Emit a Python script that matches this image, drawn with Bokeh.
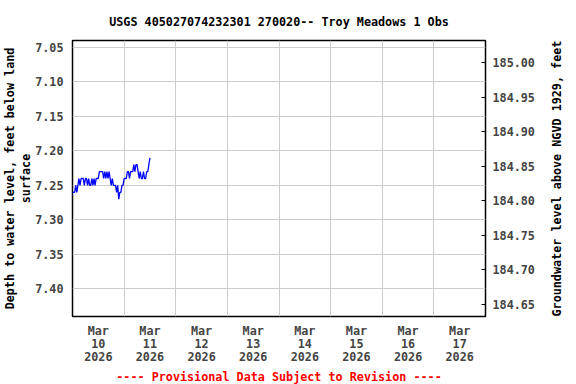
import math
import pandas as pd
from bokeh.plotting import figure
from bokeh.models import Range1d, LinearAxis, FixedTicker, Title
from bokeh.embed import file_html
from bokeh.resources import INLINE

# ---------------- data ----------------
title_text = "USGS 405027074232301 270020-- Troy Meadows 1 Obs"
left_label_1 = "Depth to water level, feet below land"
left_label_2 = "surface"
right_label = "Groundwater level above NGVD 1929, feet"
footer_text = "---- Provisional Data Subject to Revision ----"

start_time = "2026-03-10 00:00"
step_minutes = 30
depth_values = [
    7.26, 7.26, 7.26, 7.25, 7.26, 7.25, 7.24, 7.25, 7.24, 7.24,
    7.24, 7.25, 7.24, 7.24, 7.25, 7.24, 7.25, 7.25, 7.24, 7.25,
    7.24, 7.25, 7.24, 7.24, 7.24, 7.23, 7.23, 7.23, 7.23, 7.24,
    7.23, 7.24, 7.23, 7.24, 7.23, 7.24, 7.25, 7.24, 7.25, 7.25,
    7.25, 7.26, 7.25, 7.27, 7.26, 7.26, 7.25, 7.25, 7.24, 7.24,
    7.24, 7.23, 7.23, 7.24, 7.23, 7.23, 7.23, 7.22, 7.23, 7.22,
    7.22, 7.23, 7.24, 7.23, 7.24, 7.24, 7.23, 7.24, 7.24, 7.23,
    7.23, 7.22, 7.21,
]
datum_elevation = 192.072  # land surface elevation, NGVD 1929

x_start = "2026-03-10"
x_end = "2026-03-18"
day_dates = ["2026-03-10", "2026-03-11", "2026-03-12", "2026-03-13",
             "2026-03-14", "2026-03-15", "2026-03-16", "2026-03-17"]
day_labels = ["Mar\n10\n2026", "Mar\n11\n2026", "Mar\n12\n2026", "Mar\n13\n2026",
              "Mar\n14\n2026", "Mar\n15\n2026", "Mar\n16\n2026", "Mar\n17\n2026"]
depth_ticks = [7.05, 7.10, 7.15, 7.20, 7.25, 7.30, 7.35, 7.40]
elev_ticks = [184.65, 184.70, 184.75, 184.80, 184.85, 184.90, 184.95, 185.00]
depth_top = 7.04
depth_bottom = 7.44

# ---------------- build ----------------
times = pd.date_range(start_time, periods=len(depth_values), freq=f"{step_minutes}min")

FONT = "DejaVu Sans Mono"
FS = "11.75px"

p = figure(width=576, height=384, output_backend="svg", toolbar_location=None,
           x_axis_type="datetime",
           x_range=Range1d(pd.Timestamp(x_start), pd.Timestamp(x_end)),
           y_range=Range1d(depth_bottom, depth_top),
           min_border_left=72, min_border_right=91,
           min_border_top=39, min_border_bottom=68)
p.background_fill_color = "white"
p.border_fill_color = "white"
p.outline_line_color = "black"
p.outline_line_width = 1.5

p.line(times, depth_values, line_color="#0000ff", line_width=1.3)

def ms(d):
    return pd.Timestamp(d).value / 1e6

noon_ticks = [ms(d) + 12 * 3600 * 1000 for d in day_dates]
midnight_ticks = [ms(d) for d in day_dates[1:]]

xa = p.xaxis[0]
xa.ticker = FixedTicker(ticks=noon_ticks)
xa.major_label_overrides = {t: lab for t, lab in zip(noon_ticks, day_labels)}
xa.major_tick_line_color = None
xa.major_tick_out = 0
xa.major_tick_in = 0
xa.minor_tick_line_color = None
xa.axis_line_color = None
xa.major_label_text_font = FONT
xa.major_label_text_font_size = FS
xa.major_label_text_font_style = "bold"
xa.major_label_standoff = 7
xa.major_label_text_line_height = 0.95

p.xgrid[0].ticker = FixedTicker(ticks=midnight_ticks)
p.xgrid[0].grid_line_color = "#cccccc"

ya = p.yaxis[0]
ya.ticker = FixedTicker(ticks=depth_ticks)
ya.major_label_overrides = {t: f"{t:.2f}" for t in depth_ticks}
ya.major_tick_line_color = None
ya.major_tick_out = 0
ya.major_tick_in = 0
ya.minor_tick_line_color = None
ya.axis_line_color = None
ya.major_label_text_font = FONT
ya.major_label_text_font_size = FS
ya.major_label_text_font_style = "bold"
ya.major_label_standoff = 9
p.ygrid[0].ticker = FixedTicker(ticks=depth_ticks)
p.ygrid[0].grid_line_color = "#cccccc"

p.extra_y_ranges = {"elev": Range1d(datum_elevation - depth_bottom,
                                    datum_elevation - depth_top)}
ra = LinearAxis(y_range_name="elev", ticker=FixedTicker(ticks=elev_ticks))
ra.major_label_overrides = {t: f"{t:.2f}" for t in elev_ticks}
ra.major_tick_in = 4
ra.major_tick_out = 0
ra.minor_tick_line_color = None
ra.axis_line_color = None
ra.major_label_text_font = FONT
ra.major_label_text_font_size = FS
ra.major_label_text_font_style = "bold"
ra.major_label_standoff = 7
ra.axis_label = right_label
ra.axis_label_text_font = FONT
ra.axis_label_text_font_size = FS
ra.axis_label_text_font_style = "bold"
ra.axis_label_text_color = "black"
ra.axis_label_standoff = 19
ra.axis_label_orientation = math.pi / 2
ra.axis_label_align = "start"
p.add_layout(ra, "right")

def make_title(text, color="black", standoff=0, offset=0):
    return Title(text=text, align="center", text_font=FONT, text_font_size=FS,
                 text_font_style="bold", text_color=color, standoff=standoff,
                 offset=offset)

p.title = make_title(title_text, standoff=24, offset=-6)
p.add_layout(make_title(left_label_2, standoff=0), "left")
p.add_layout(make_title(left_label_1, standoff=0), "left")
p.add_layout(make_title(footer_text, color="#ff0000", standoff=0), "below")

open("out.html", "w").write(file_html(p, INLINE))
